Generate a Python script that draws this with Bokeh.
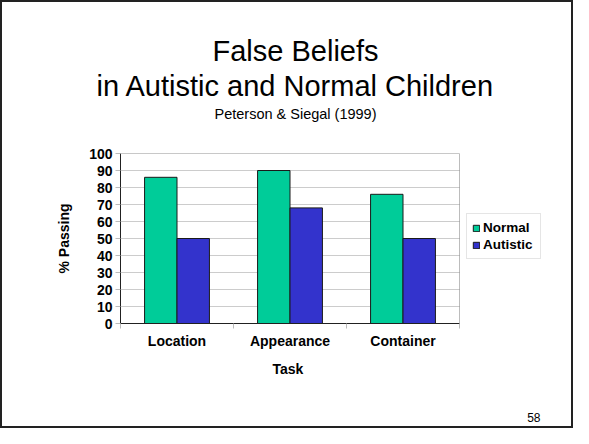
from bokeh.plotting import figure
from bokeh.models import (Range1d, FixedTicker, Legend, LegendItem, Title,
                          BoxAnnotation, ColumnDataSource)
from bokeh.embed import file_html
from bokeh.resources import INLINE

# ---- data ----
tasks = ["Location", "Appearance", "Container"]
normal = [86, 90, 76]
autistic = [50, 68, 50]
y_ticks = [0, 10, 20, 30, 40, 50, 60, 70, 80, 90, 100]
series_names = ["Normal", "Autistic"]
x_title = "Task"
y_title = "% Passing"
title_line1 = "False Beliefs"
title_line2 = "in Autistic and Normal Children"
subtitle = "Peterson & Siegal (1999)"
slide_number = "58"

FONT = "Liberation Sans"
GREEN = "#00CC99"
BLUE = "#3333CC"

W, H = 573, 428
LEFT, RIGHT = 120, 13          # borders; frame also hosts the legend
PLOT_W = 339                   # pixel width of the bar area
n = len(tasks)
x_end = n * (W - LEFT - RIGHT) / PLOT_W

centers = [i + 0.5 for i in range(n)]
bar_w = 0.287
src = ColumnDataSource(dict(
    xn=[c - bar_w / 2 for c in centers],
    xa=[c + bar_w / 2 for c in centers],
    normal=normal, autistic=autistic))

p = figure(width=W, height=H, output_backend="svg", toolbar_location=None,
           title=None,
           x_range=Range1d(0, x_end), y_range=Range1d(0, 100),
           min_border_left=LEFT, min_border_right=RIGHT,
           min_border_top=153, min_border_bottom=105,
           background_fill_color="white", border_fill_color=None)
p.styles = {"outline": "2px solid #222222", "outline-offset": "-2px"}
p.outline_line_color = None
p.xgrid.grid_line_color = None
p.ygrid.grid_line_color = None

# horizontal gridlines across the bar area only
p.segment(x0=[0] * len(y_ticks), x1=[n] * len(y_ticks), y0=y_ticks, y1=y_ticks,
          line_color="#CCCCCC", line_width=1, level="underlay")

rn = p.vbar(x="xn", top="normal", width=bar_w, source=src,
            fill_color=GREEN, line_color="#1a1a1a", line_width=1)
ra = p.vbar(x="xa", top="autistic", width=bar_w, source=src,
            fill_color=BLUE, line_color="#1a1a1a", line_width=1)

# plot box
p.add_layout(BoxAnnotation(left=0, right=n, bottom=0, top=100,
                           fill_color=None, line_color="#222222", line_width=1))

ya = p.yaxis[0]
ya.ticker = FixedTicker(ticks=y_ticks)
ya.axis_line_color = "#222222"
ya.major_tick_line_color = "#BBBBBB"
ya.major_tick_out = 5
ya.major_tick_in = 0
ya.minor_tick_line_color = None
ya.major_label_standoff = 3
ya.major_label_text_font = FONT
ya.major_label_text_font_style = "bold"
ya.major_label_text_font_size = "14px"
ya.major_label_text_color = "black"
ya.axis_label = y_title
ya.axis_label_text_font = FONT
ya.axis_label_text_font_style = "bold"
ya.axis_label_text_font_size = "14px"
ya.axis_label_text_color = "black"
ya.axis_label_standoff = 14

xa = p.xaxis[0]
xa.bounds = (0, n)
xa.ticker = FixedTicker(ticks=centers, minor_ticks=list(range(n + 1)))
xa.major_label_overrides = {c: t for c, t in zip(centers, tasks)}
xa.axis_line_color = "#222222"
xa.major_tick_line_color = None
xa.major_tick_out = 0
xa.major_tick_in = 0
xa.minor_tick_line_color = "#BBBBBB"
xa.minor_tick_out = 5
xa.minor_tick_in = 0
xa.major_label_standoff = 4
xa.major_label_text_font = FONT
xa.major_label_text_font_style = "bold"
xa.major_label_text_font_size = "14px"
xa.major_label_text_color = "black"

# legend inside the (extended) frame, right of the bar area
legend = Legend(items=[LegendItem(label=series_names[0], renderers=[rn]),
                       LegendItem(label=series_names[1], renderers=[ra])],
                location=(346, 64), orientation="vertical")
legend.label_text_font = FONT
legend.label_text_font_style = "bold"
legend.label_text_font_size = "13.5px"
legend.label_text_color = "black"
legend.glyph_width = 8
legend.glyph_height = 8
legend.label_standoff = 3
legend.label_height = 17
legend.label_width = 52
legend.spacing = 0
legend.padding = 5
legend.margin = 0
legend.border_line_color = "#CCCCCC"
legend.background_fill_color = "white"
legend.background_fill_alpha = 1
p.add_layout(legend, "center")

# title panels, from the frame outward
def ttl(text, size, offset, standoff=0, style="normal"):
    return Title(text=text, text_font=FONT, text_font_size=size,
                 text_font_style=style, text_color="black",
                 align="left", offset=offset, standoff=standoff)

def spacer(standoff):
    return Title(text=" ", text_font=FONT, text_font_size="10px",
                 standoff=standoff)

p.add_layout(spacer(18), "above")
p.add_layout(ttl(subtitle, "14.5px", 94, 2), "above")
p.add_layout(ttl(title_line2, "29px", -24, 2), "above")
p.add_layout(ttl(title_line1, "29px", 92), "above")
p.add_layout(spacer(18), "above")

# x-axis title centred under the bar area, then the slide number
p.add_layout(ttl(x_title, "14px", 152, 14, "bold"), "below")
p.add_layout(spacer(14), "below")
p.add_layout(Title(text=slide_number, text_font=FONT, text_font_size="12px",
                   text_font_style="normal", text_color="black",
                   align="right", offset=20, standoff=0), "below")

open("out.html", "w").write(file_html(p, INLINE))
